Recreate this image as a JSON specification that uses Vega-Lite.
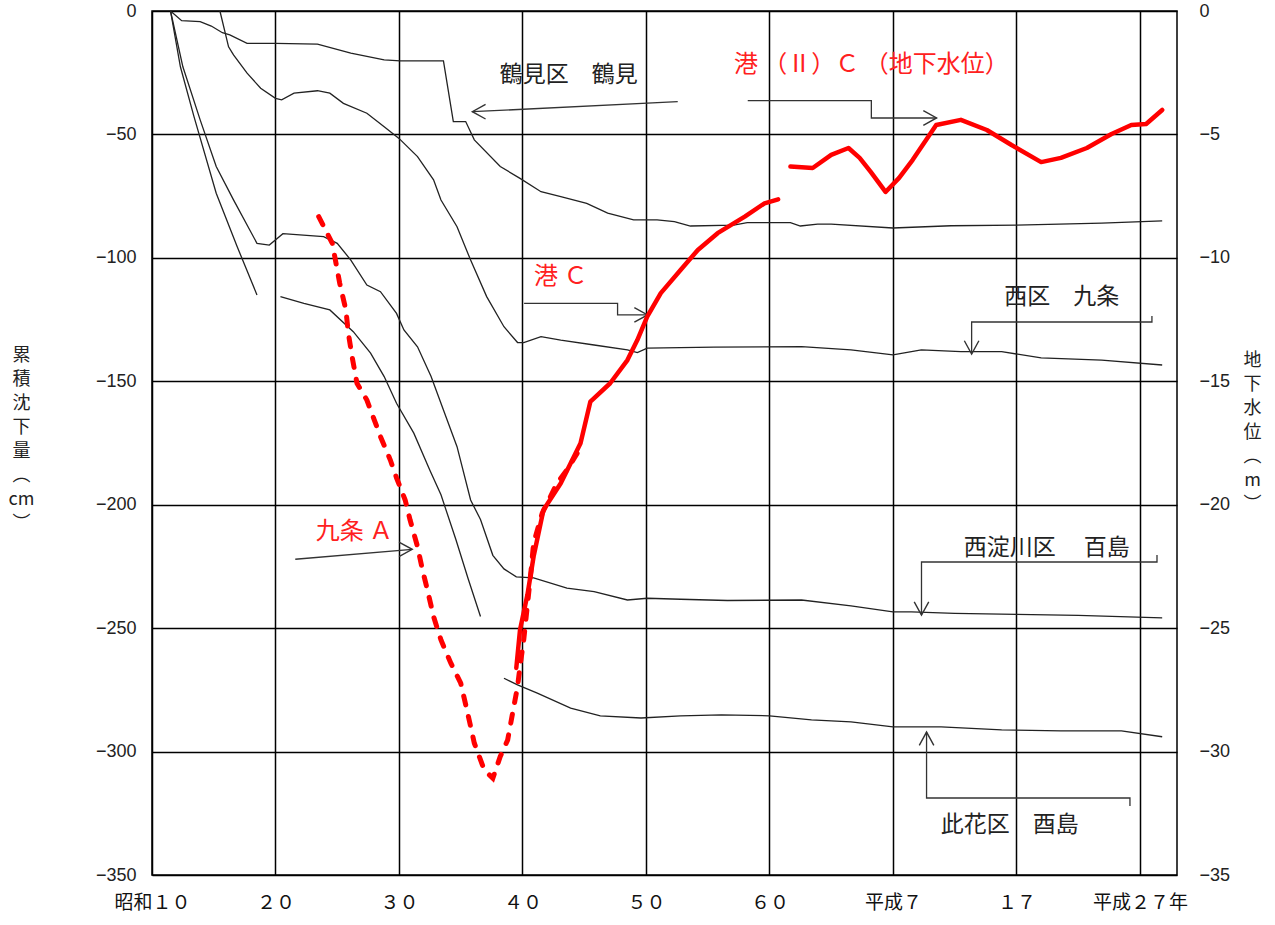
{
  "$schema": "https://vega.github.io/schema/vega-lite/v6.json",
  "autosize": {"type": "none"},
  "padding": {"left": 152, "top": 11, "right": 98, "bottom": 50},
  "width": 1025,
  "height": 864,
  "background": "white",
  "config": {
    "view": {"stroke": "black", "strokeWidth": 1.5},
    "axis": {
      "labelFont": "Liberation Sans",
      "labelFontSize": 18,
      "labelColor": "#222",
      "ticks": false,
      "domain": false,
      "gridColor": "black",
      "gridOpacity": 1,
      "gridWidth": 1.5,
      "titleFont": "Noto Sans CJK JP",
      "titleFontWeight": "normal",
      "titleColor": "#222"
    }
  },
  "datasets": {
    "subsidence": [
      {"s": "鶴見", "year": 1936.5, "cm": 0}, {"s": "鶴見", "year": 1937.4, "cm": -3.9}, {"s": "鶴見", "year": 1938.9, "cm": -4.3}, {"s": "鶴見", "year": 1939.8, "cm": -6.1}, {"s": "鶴見", "year": 1940.7, "cm": -8.8}, {"s": "鶴見", "year": 1941.3, "cm": -9.7}, {"s": "鶴見", "year": 1942.7, "cm": -13.1}, {"s": "鶴見", "year": 1945, "cm": -13.1}, {"s": "鶴見", "year": 1948.4, "cm": -13.4}, {"s": "鶴見", "year": 1951.1, "cm": -17.1}, {"s": "鶴見", "year": 1953.8, "cm": -19.8}, {"s": "鶴見", "year": 1955.1, "cm": -20.2}, {"s": "鶴見", "year": 1958.6, "cm": -20.2}, {"s": "鶴見", "year": 1959.4, "cm": -44.8}, {"s": "鶴見", "year": 1960.4, "cm": -44.8}, {"s": "鶴見", "year": 1961.1, "cm": -52.2}, {"s": "鶴見", "year": 1963.2, "cm": -63}, {"s": "鶴見", "year": 1964.8, "cm": -67.8}, {"s": "鶴見", "year": 1966.5, "cm": -73.2}, {"s": "鶴見", "year": 1968.1, "cm": -75.2}, {"s": "鶴見", "year": 1970.2, "cm": -77.9}, {"s": "鶴見", "year": 1971.9, "cm": -81.9}, {"s": "鶴見", "year": 1974, "cm": -84.6}, {"s": "鶴見", "year": 1975.9, "cm": -84.6}, {"s": "鶴見", "year": 1977.3, "cm": -85.3}, {"s": "鶴見", "year": 1978.6, "cm": -87.1}, {"s": "鶴見", "year": 1982.1, "cm": -86.7}, {"s": "鶴見", "year": 1983.2, "cm": -85.7}, {"s": "鶴見", "year": 1986.7, "cm": -85.7}, {"s": "鶴見", "year": 1987.5, "cm": -87.1}, {"s": "鶴見", "year": 1988.9, "cm": -86.3}, {"s": "鶴見", "year": 1990, "cm": -86.3}, {"s": "鶴見", "year": 1995, "cm": -87.9}, {"s": "鶴見", "year": 1999.7, "cm": -87}, {"s": "鶴見", "year": 2005, "cm": -86.7}, {"s": "鶴見", "year": 2011.9, "cm": -85.9}, {"s": "鶴見", "year": 2016.8, "cm": -85},
      {"s": "九条", "year": 1940.5, "cm": 0}, {"s": "九条", "year": 1941.2, "cm": -14.5}, {"s": "九条", "year": 1941.6, "cm": -17.8}, {"s": "九条", "year": 1942.7, "cm": -25.2}, {"s": "九条", "year": 1943.8, "cm": -31.3}, {"s": "九条", "year": 1945, "cm": -35.4}, {"s": "九条", "year": 1945.5, "cm": -36}, {"s": "九条", "year": 1946.5, "cm": -33.3}, {"s": "九条", "year": 1948.4, "cm": -32.3}, {"s": "九条", "year": 1949.4, "cm": -33.3}, {"s": "九条", "year": 1950.5, "cm": -37.4}, {"s": "九条", "year": 1952.4, "cm": -41.4}, {"s": "九条", "year": 1953.8, "cm": -46.9}, {"s": "九条", "year": 1955, "cm": -51.6}, {"s": "九条", "year": 1956.5, "cm": -59}, {"s": "九条", "year": 1957.8, "cm": -68.4}, {"s": "九条", "year": 1958.4, "cm": -76.6}, {"s": "九条", "year": 1959.7, "cm": -87.4}, {"s": "九条", "year": 1960.8, "cm": -100.9}, {"s": "九条", "year": 1962.1, "cm": -115.7}, {"s": "九条", "year": 1963.5, "cm": -127.9}, {"s": "九条", "year": 1964.6, "cm": -134.3}, {"s": "九条", "year": 1965.1, "cm": -134.3}, {"s": "九条", "year": 1966.5, "cm": -131.9}, {"s": "九条", "year": 1968.1, "cm": -133.3}, {"s": "九条", "year": 1970.8, "cm": -135.3}, {"s": "九条", "year": 1973.5, "cm": -137.3}, {"s": "九条", "year": 1974.3, "cm": -138.4}, {"s": "九条", "year": 1975.1, "cm": -136.6}, {"s": "九条", "year": 1980.5, "cm": -136.2}, {"s": "九条", "year": 1987.6, "cm": -136}, {"s": "九条", "year": 1991.6, "cm": -137.3}, {"s": "九条", "year": 1995, "cm": -139.3}, {"s": "九条", "year": 1997.3, "cm": -137.3}, {"s": "九条", "year": 2000.5, "cm": -138}, {"s": "九条", "year": 2003.8, "cm": -138}, {"s": "九条", "year": 2007, "cm": -140.5}, {"s": "九条", "year": 2011.9, "cm": -141.4}, {"s": "九条", "year": 2016.8, "cm": -143.4},
      {"s": "百島", "year": 1936.5, "cm": 0}, {"s": "百島", "year": 1937.5, "cm": -22.6}, {"s": "百島", "year": 1938.9, "cm": -44.1}, {"s": "百島", "year": 1940.2, "cm": -63}, {"s": "百島", "year": 1941.6, "cm": -76.5}, {"s": "百島", "year": 1943.5, "cm": -94.1}, {"s": "百島", "year": 1944.5, "cm": -94.8}, {"s": "百島", "year": 1945.6, "cm": -90.2}, {"s": "百島", "year": 1948.9, "cm": -91.4}, {"s": "百島", "year": 1950, "cm": -94.1}, {"s": "百島", "year": 1951.1, "cm": -100.9}, {"s": "百島", "year": 1952.4, "cm": -111}, {"s": "百島", "year": 1953.5, "cm": -113.7}, {"s": "百島", "year": 1954.8, "cm": -122.5}, {"s": "百島", "year": 1955.4, "cm": -129.2}, {"s": "百島", "year": 1956.5, "cm": -136}, {"s": "百島", "year": 1957.6, "cm": -148.1}, {"s": "百島", "year": 1958.6, "cm": -161.6}, {"s": "百島", "year": 1959.7, "cm": -176.5}, {"s": "百島", "year": 1960.8, "cm": -198.1}, {"s": "百島", "year": 1961.6, "cm": -206}, {"s": "百島", "year": 1962.6, "cm": -220.5}, {"s": "百島", "year": 1963.5, "cm": -226}, {"s": "百島", "year": 1964.5, "cm": -229.2}, {"s": "百島", "year": 1965.9, "cm": -229.6}, {"s": "百島", "year": 1968.6, "cm": -233.8}, {"s": "百島", "year": 1970.8, "cm": -235.2}, {"s": "百島", "year": 1973.5, "cm": -238.6}, {"s": "百島", "year": 1975.1, "cm": -237.9}, {"s": "百島", "year": 1977.8, "cm": -238.3}, {"s": "百島", "year": 1981.6, "cm": -238.8}, {"s": "百島", "year": 1987.6, "cm": -238.6}, {"s": "百島", "year": 1991.6, "cm": -241}, {"s": "百島", "year": 1995, "cm": -243.4}, {"s": "百島", "year": 1996.5, "cm": -243.4}, {"s": "百島", "year": 2000, "cm": -244}, {"s": "百島", "year": 2005, "cm": -244.4}, {"s": "百島", "year": 2010, "cm": -244.8}, {"s": "百島", "year": 2016.8, "cm": -245.8},
      {"s": "其他", "year": 1936.5, "cm": 0}, {"s": "其他", "year": 1937.3, "cm": -22.6}, {"s": "其他", "year": 1938.4, "cm": -42.8}, {"s": "其他", "year": 1940.2, "cm": -73.8}, {"s": "其他", "year": 1941.9, "cm": -95.5}, {"s": "其他", "year": 1943.5, "cm": -115},
      {"s": "酉島1", "year": 1945.4, "cm": -115.7}, {"s": "酉島1", "year": 1947.3, "cm": -118.4}, {"s": "酉島1", "year": 1949.4, "cm": -121.1}, {"s": "酉島1", "year": 1951.3, "cm": -129.9}, {"s": "酉島1", "year": 1952.7, "cm": -138.6}, {"s": "酉島1", "year": 1953.8, "cm": -148.1}, {"s": "酉島1", "year": 1954.8, "cm": -158.9}, {"s": "酉島1", "year": 1956.2, "cm": -171}, {"s": "酉島1", "year": 1957.5, "cm": -186}, {"s": "酉島1", "year": 1958.4, "cm": -196}, {"s": "酉島1", "year": 1959.6, "cm": -214}, {"s": "酉島1", "year": 1960.6, "cm": -230}, {"s": "酉島1", "year": 1961.6, "cm": -245.3},
      {"s": "酉島2", "year": 1963.5, "cm": -270.3}, {"s": "酉島2", "year": 1964.6, "cm": -273}, {"s": "酉島2", "year": 1966.2, "cm": -276.3}, {"s": "酉島2", "year": 1968.9, "cm": -282.4}, {"s": "酉島2", "year": 1971.3, "cm": -285.5}, {"s": "酉島2", "year": 1974.6, "cm": -286.4}, {"s": "酉島2", "year": 1977.8, "cm": -285.5}, {"s": "酉島2", "year": 1981.1, "cm": -285.1}, {"s": "酉島2", "year": 1985, "cm": -285.5}, {"s": "酉島2", "year": 1988.4, "cm": -287.2}, {"s": "酉島2", "year": 1991.6, "cm": -288}, {"s": "酉島2", "year": 1995, "cm": -290}, {"s": "酉島2", "year": 1998.9, "cm": -290}, {"s": "酉島2", "year": 2003.8, "cm": -291.2}, {"s": "酉島2", "year": 2008.6, "cm": -291.6}, {"s": "酉島2", "year": 2013.5, "cm": -291.6}, {"s": "酉島2", "year": 2016.8, "cm": -294}
    ],
    "water": [
      {"s": "九条A", "year": 1948.5, "m": -8.33}, {"s": "九条A", "year": 1949.6, "m": -9.41}, {"s": "九条A", "year": 1950.2, "m": -11.03}, {"s": "九条A", "year": 1950.7, "m": -12.11}, {"s": "九条A", "year": 1950.9, "m": -13.05}, {"s": "九条A", "year": 1951.2, "m": -14}, {"s": "九条A", "year": 1951.6, "m": -15.08}, {"s": "九条A", "year": 1952.4, "m": -15.76}, {"s": "九条A", "year": 1952.9, "m": -16.43}, {"s": "九条A", "year": 1953.5, "m": -17.24}, {"s": "九条A", "year": 1954.3, "m": -18.19}, {"s": "九条A", "year": 1954.8, "m": -18.91}, {"s": "九条A", "year": 1955.5, "m": -19.81}, {"s": "九条A", "year": 1955.9, "m": -20.62}, {"s": "九条A", "year": 1956.5, "m": -21.7}, {"s": "九条A", "year": 1956.9, "m": -22.64}, {"s": "九条A", "year": 1957.3, "m": -23.45}, {"s": "九条A", "year": 1957.8, "m": -24.53}, {"s": "九条A", "year": 1958.4, "m": -25.48}, {"s": "九条A", "year": 1959.2, "m": -26.42}, {"s": "九条A", "year": 1960, "m": -27.23}, {"s": "九条A", "year": 1960.5, "m": -28.31}, {"s": "九条A", "year": 1961.1, "m": -29.66}, {"s": "九条A", "year": 1961.9, "m": -30.74}, {"s": "九条A", "year": 1962.6, "m": -31.08}, {"s": "九条A", "year": 1963.2, "m": -30.2}, {"s": "九条A", "year": 1963.8, "m": -29.53}, {"s": "九条A", "year": 1964.2, "m": -28.44}, {"s": "九条A", "year": 1964.6, "m": -27.37}, {"s": "九条A", "year": 1964.8, "m": -26.56}, {"s": "九条A", "year": 1965.1, "m": -25.48}, {"s": "九条A", "year": 1965.7, "m": -22.64}, {"s": "九条A", "year": 1965.9, "m": -21.56}, {"s": "九条A", "year": 1966.6, "m": -20.34}, {"s": "九条A", "year": 1967.8, "m": -19.13}, {"s": "九条A", "year": 1968.6, "m": -18.59}, {"s": "九条A", "year": 1969.6, "m": -17.78},
      {"s": "港C", "year": 1964.5, "m": -26.61}, {"s": "港C", "year": 1964.8, "m": -25.07}, {"s": "港C", "year": 1965.4, "m": -23.65}, {"s": "港C", "year": 1965.9, "m": -22.1}, {"s": "港C", "year": 1966.7, "m": -20.21}, {"s": "港C", "year": 1968.1, "m": -19.13}, {"s": "港C", "year": 1969.7, "m": -17.51}, {"s": "港C", "year": 1970.5, "m": -15.82}, {"s": "港C", "year": 1972.1, "m": -15.08}, {"s": "港C", "year": 1973.5, "m": -14.14}, {"s": "港C", "year": 1974.3, "m": -13.33}, {"s": "港C", "year": 1975.1, "m": -12.38}, {"s": "港C", "year": 1976.2, "m": -11.43}, {"s": "港C", "year": 1977.8, "m": -10.49}, {"s": "港C", "year": 1979.2, "m": -9.68}, {"s": "港C", "year": 1980.8, "m": -9}, {"s": "港C", "year": 1983, "m": -8.33}, {"s": "港C", "year": 1984.6, "m": -7.79}, {"s": "港C", "year": 1985.7, "m": -7.63},
      {"s": "港IIC", "year": 1986.7, "m": -6.3}, {"s": "港IIC", "year": 1988.5, "m": -6.36}, {"s": "港IIC", "year": 1990, "m": -5.83}, {"s": "港IIC", "year": 1991.4, "m": -5.55}, {"s": "港IIC", "year": 1992.3, "m": -5.95}, {"s": "港IIC", "year": 1993.2, "m": -6.52}, {"s": "港IIC", "year": 1994.4, "m": -7.33}, {"s": "港IIC", "year": 1995.5, "m": -6.76}, {"s": "港IIC", "year": 1996.6, "m": -6.03}, {"s": "港IIC", "year": 1998.5, "m": -4.62}, {"s": "港IIC", "year": 2000.5, "m": -4.41}, {"s": "港IIC", "year": 2002.6, "m": -4.82}, {"s": "港IIC", "year": 2004.6, "m": -5.43}, {"s": "港IIC", "year": 2007, "m": -6.12}, {"s": "港IIC", "year": 2008.6, "m": -5.95}, {"s": "港IIC", "year": 2010.7, "m": -5.55}, {"s": "港IIC", "year": 2012.7, "m": -4.98}, {"s": "港IIC", "year": 2014.3, "m": -4.62}, {"s": "港IIC", "year": 2015.5, "m": -4.58}, {"s": "港IIC", "year": 2016.8, "m": -4.01}
    ],
    "connectors": [
      {"id": "a1", "ord": 0, "year": 1977.57, "cm": -36.74}, {"id": "a1", "ord": 1, "year": 1960.94, "cm": -40.8},
      {"id": "a2", "ord": 0, "year": 1983.24, "cm": -36.34}, {"id": "a2", "ord": 1, "year": 1993.25, "cm": -36.34}, {"id": "a2", "ord": 2, "year": 1993.25, "cm": -43.34}, {"id": "a2", "ord": 3, "year": 1998.53, "cm": -43.34},
      {"id": "a3", "ord": 0, "year": 1965.13, "cm": -118.4}, {"id": "a3", "ord": 1, "year": 1972.7, "cm": -118.4}, {"id": "a3", "ord": 2, "year": 1972.7, "cm": -123.1}, {"id": "a3", "ord": 3, "year": 1975.13, "cm": -123.1},
      {"id": "a4", "ord": 0, "year": 2015.97, "cm": -123.55}, {"id": "a4", "ord": 1, "year": 2015.97, "cm": -125.98}, {"id": "a4", "ord": 2, "year": 2001.37, "cm": -125.98}, {"id": "a4", "ord": 3, "year": 2001.37, "cm": -138.94},
      {"id": "a5", "ord": 0, "year": 2016.38, "cm": -220.4}, {"id": "a5", "ord": 1, "year": 2016.38, "cm": -223.2}, {"id": "a5", "ord": 2, "year": 1997.31, "cm": -223.2}, {"id": "a5", "ord": 3, "year": 1997.31, "cm": -244.7},
      {"id": "a6", "ord": 0, "year": 2014.19, "cm": -322.0}, {"id": "a6", "ord": 1, "year": 2014.19, "cm": -318.8}, {"id": "a6", "ord": 2, "year": 1997.72, "cm": -318.8}, {"id": "a6", "ord": 3, "year": 1997.72, "cm": -292.1},
      {"id": "a7", "ord": 0, "year": 1946.6, "cm": -222.1}, {"id": "a7", "ord": 1, "year": 1956.07, "cm": -218.06}
    ],
    "arrows": [
      {"year": 1960.94, "cm": -40.8, "dir": "left"},
      {"year": 1998.53, "cm": -43.34, "dir": "right"},
      {"year": 1975.13, "cm": -123.1, "dir": "right"},
      {"year": 2001.37, "cm": -138.94, "dir": "down"},
      {"year": 1997.31, "cm": -244.7, "dir": "down"},
      {"year": 1997.72, "cm": -292.1, "dir": "up"},
      {"year": 1956.07, "cm": -218.06, "dir": "right"}
    ],
    "labelsBlack": [
      {"year": 1968.75, "cm": -25.9, "label": "鶴見区　鶴見"},
      {"year": 2008.67, "cm": -115.9, "label": "西区　九条"},
      {"year": 2007.45, "cm": -217.5, "label": "西淀川区　 百島"},
      {"year": 2004.45, "cm": -329.9, "label": "此花区　酉島"}
    ],
    "labelsRed": [
      {"year": 1993.25, "cm": -21.9, "label": "港 （Ⅱ）Ｃ （地下水位）"},
      {"year": 1968.1, "cm": -107.8, "label": "港 Ｃ"},
      {"year": 1951.39, "cm": -211.05, "label": "九条 Ａ"}
    ]
  },
  "encoding": {
    "x": {
      "field": "year",
      "type": "quantitative",
      "scale": {"domain": [1935, 2018], "nice": false, "zero": false},
      "axis": {
        "values": [1935, 1945, 1955, 1965, 1975, 1985, 1995, 2005, 2015],
        "grid": true,
        "title": null,
        "labelFlush": false,
        "labelFont": "Noto Sans CJK JP",
        "labelFontSize": 19,
        "labelColor": "#111",
        "labelPadding": 18,
        "labelDx": 8,
        "labelExpr": "datum.value===1935?'昭和１０':datum.value===1945?'２０':datum.value===1955?'３０':datum.value===1965?'４０':datum.value===1975?'５０':datum.value===1985?'６０':datum.value===1995?'平成７':datum.value===2005?'１７':'平成２７年'"
      }
    }
  },
  "layer": [
    {
      "encoding": {
        "y": {
          "field": "cm",
          "type": "quantitative",
          "scale": {"domain": [-350, 0], "nice": false, "zero": false},
          "axis": {
            "orient": "left",
            "values": [0, -50, -100, -150, -200, -250, -300, -350],
            "grid": true,
            "labelPadding": 16,
            "title": ["累", "積", "沈", "下", "量", "︵", "cm", "︶"],
            "titleAngle": 0,
            "titleAlign": "center",
            "titleBaseline": "top",
            "titleX": -131,
            "titleY": 335,
            "titleFontSize": 18,
            "titleLineHeight": 24
          }
        }
      },
      "layer": [
        {
          "data": {"name": "subsidence"},
          "mark": {"type": "line", "color": "#222", "strokeWidth": 1.3},
          "encoding": {"detail": {"field": "s", "type": "nominal"}}
        },
        {
          "data": {"name": "connectors"},
          "mark": {"type": "line", "color": "#333", "strokeWidth": 1.3},
          "encoding": {
            "detail": {"field": "id", "type": "nominal"},
            "order": {"field": "ord", "type": "quantitative"}
          }
        },
        {
          "data": {"name": "arrows"},
          "mark": {"type": "point", "filled": false, "stroke": "#333", "strokeWidth": 1.4, "opacity": 1, "size": 700},
          "encoding": {
            "shape": {
              "field": "dir",
              "type": "nominal",
              "legend": null,
              "scale": {
                "domain": ["right", "left", "down", "up"],
                "range": ["M-1,-0.55L0,0L-1,0.55", "M1,-0.55L0,0L1,0.55", "M-0.55,-1L0,0L0.55,-1", "M-0.55,1L0,0L0.55,1"]
              }
            }
          }
        },
        {
          "data": {"name": "labelsBlack"},
          "mark": {"type": "text", "font": "Noto Sans CJK JP", "fontSize": 23, "color": "#222"},
          "encoding": {"text": {"field": "label", "type": "nominal"}}
        },
        {
          "data": {"name": "labelsRed"},
          "mark": {"type": "text", "font": "Noto Sans CJK JP", "fontSize": 24, "color": "#ff2020"},
          "encoding": {"text": {"field": "label", "type": "nominal"}}
        }
      ]
    },
    {
      "data": {"name": "water"},
      "encoding": {
        "y": {
          "field": "m",
          "type": "quantitative",
          "scale": {"domain": [-35, 0], "nice": false, "zero": false},
          "axis": {
            "orient": "right",
            "values": [0, -5, -10, -15, -20, -25, -30, -35],
            "grid": false,
            "labelPadding": 22,
            "title": ["地", "下", "水", "位", " ", "︵", "m", "︶"],
            "titleAngle": 0,
            "titleAlign": "center",
            "titleBaseline": "top",
            "titleX": 75,
            "titleY": 340,
            "titleFontSize": 18,
            "titleLineHeight": 24
          }
        },
        "detail": {"field": "s", "type": "nominal"}
      },
      "layer": [
        {
          "transform": [{"filter": "datum.s === '九条A'"}],
          "mark": {"type": "line", "color": "#ff0000", "strokeWidth": 5, "strokeDash": [9, 12], "strokeCap": "round"}
        },
        {
          "transform": [{"filter": "datum.s !== '九条A'"}],
          "mark": {"type": "line", "color": "#ff0000", "strokeWidth": 4.5, "strokeCap": "round", "strokeJoin": "round"}
        }
      ]
    }
  ],
  "resolve": {"scale": {"y": "independent"}}
}
